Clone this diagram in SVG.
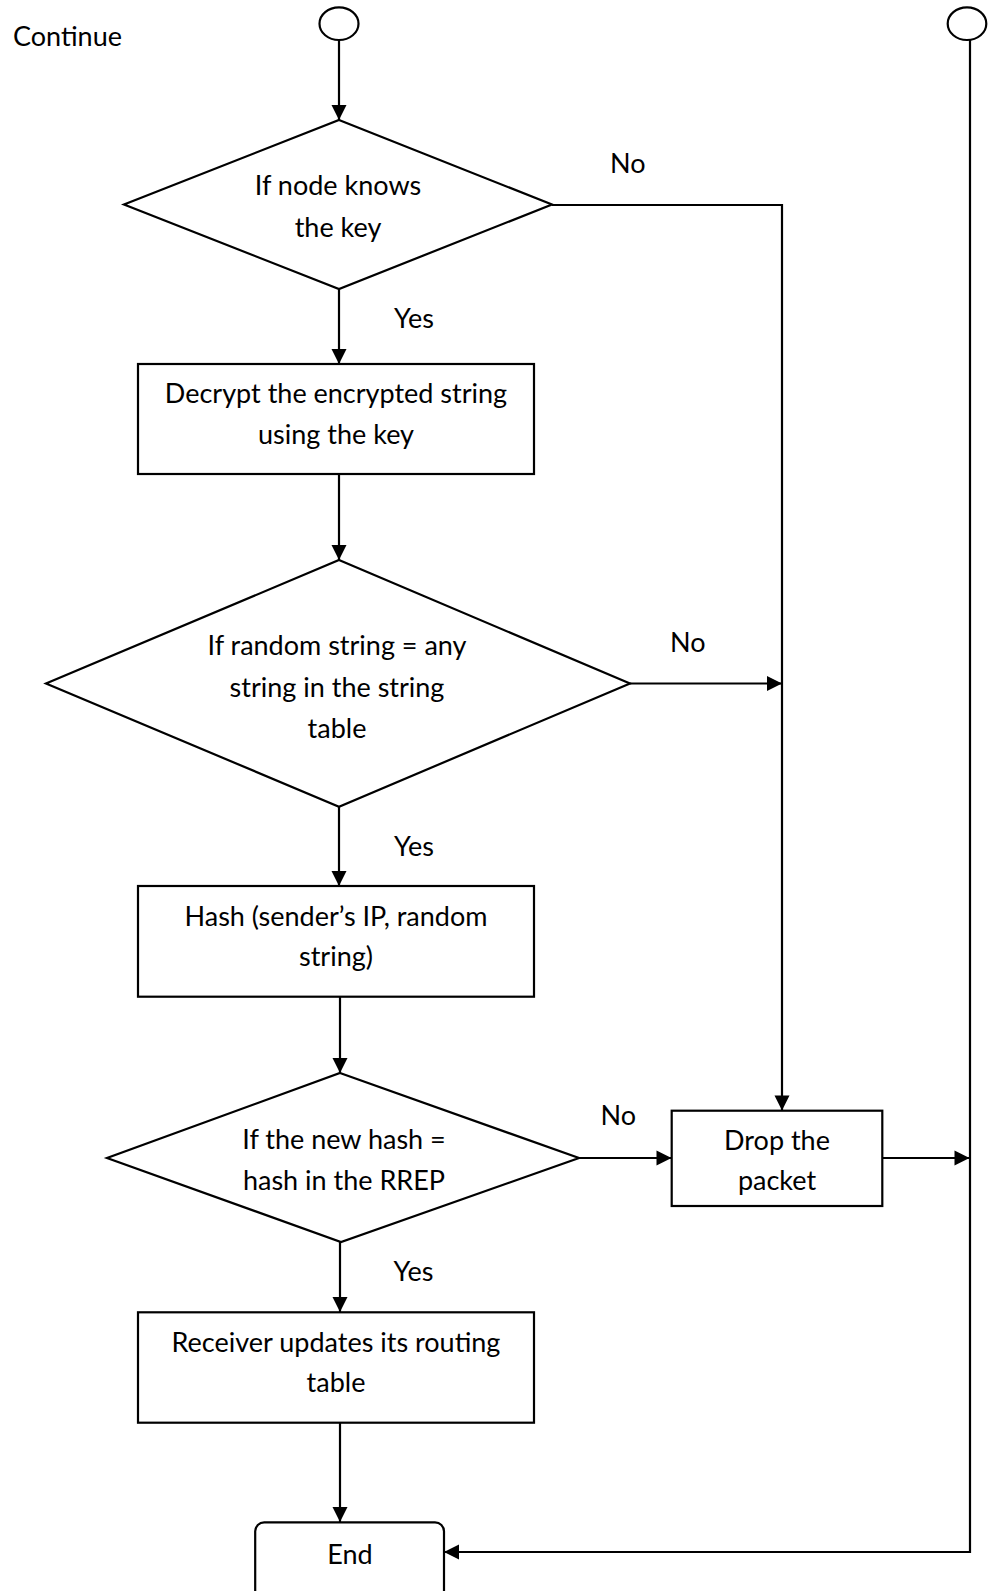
<svg xmlns="http://www.w3.org/2000/svg" width="991" height="1591" viewBox="0 0 991 1591">
  <style>
    .shape { fill: #ffffff; stroke: #000000; stroke-width: 2.2; }
    .edge { fill: none; stroke: #000000; stroke-width: 2.2; }
    .arrow { marker-end: url(#head); }
    text { font-family: Lato, "Liberation Sans", sans-serif; font-size: 27px; fill: #000000; }
    .c { text-anchor: middle; }
  </style>
  <defs>
    <marker id="head" markerUnits="userSpaceOnUse" markerWidth="18" markerHeight="18" viewBox="0 0 18 18" refX="16" refY="9" orient="auto">
      <path d="M1,1.5 L16,9 L1,16.5 Z" fill="#000000"/>
    </marker>
  </defs>

  <rect width="991" height="1591" fill="#ffffff"/>

  <text x="13" y="45.5">Continue</text>

  <!-- connectors -->
  <g id="connectors">
    <line class="edge arrow" x1="339" y1="40" x2="339" y2="120"/>
    <polyline class="edge arrow" points="552,205 782,205 782,1110.5"/>
    <line class="edge arrow" x1="339" y1="289" x2="339" y2="364"/>
    <line class="edge arrow" x1="339" y1="474" x2="339" y2="560"/>
    <line class="edge arrow" x1="630" y1="683.5" x2="782" y2="683.5"/>
    <line class="edge arrow" x1="339" y1="807" x2="339" y2="886"/>
    <line class="edge arrow" x1="340" y1="997" x2="340" y2="1073"/>
    <line class="edge arrow" x1="579" y1="1158" x2="671.5" y2="1158"/>
    <line class="edge arrow" x1="882" y1="1158" x2="969.5" y2="1158"/>
    <line class="edge arrow" x1="340" y1="1242" x2="340" y2="1312"/>
    <line class="edge arrow" x1="340" y1="1423" x2="340" y2="1522"/>
    <polyline class="edge arrow" points="970,40 970,1552 444,1552"/>
    <text x="610" y="173">No</text>
    <text x="394" y="328">Yes</text>
    <text x="670" y="651.5">No</text>
    <text x="394" y="855.5">Yes</text>
    <text x="600.5" y="1125">No</text>
    <text x="393.5" y="1280.5">Yes</text>
  </g>

  <g id="start-connector">
    <ellipse class="shape" cx="339" cy="23.7" rx="19.5" ry="16.3"/>
  </g>

  <g id="continue-connector">
    <ellipse class="shape" cx="967" cy="23.7" rx="19.3" ry="16.3"/>
  </g>

  <g id="knows-key">
    <polygon class="shape" points="339,120 552,204.5 339,289 124,204.5"/>
    <text class="c" x="338" y="195">If node knows</text>
    <text class="c" x="338" y="237">the key</text>
  </g>

  <g id="decrypt">
    <rect class="shape" x="138" y="364" width="396" height="110"/>
    <text class="c" x="336" y="403.3">Decrypt the encrypted string</text>
    <text class="c" x="336" y="444">using the key</text>
  </g>

  <g id="string-match">
    <polygon class="shape" points="339,560 630,683.5 339,806.7 46,683.5"/>
    <text class="c" x="337" y="655">If random string = any</text>
    <text class="c" x="337" y="697">string in the string</text>
    <text class="c" x="337" y="738.3">table</text>
  </g>

  <g id="hash">
    <rect class="shape" x="138" y="886" width="396" height="110.7"/>
    <text class="c" x="336" y="926">Hash (sender’s IP, random</text>
    <text class="c" x="336" y="965.7">string)</text>
  </g>

  <g id="hash-match">
    <polygon class="shape" points="340,1073 579,1158 341,1242 107,1158"/>
    <text class="c" x="344" y="1149">If the new hash =</text>
    <text class="c" x="344" y="1190">hash in the RREP</text>
  </g>

  <g id="drop">
    <rect class="shape" x="671.7" y="1110.7" width="210.6" height="95.3"/>
    <text class="c" x="777" y="1150">Drop the</text>
    <text class="c" x="777" y="1190">packet</text>
  </g>

  <g id="update">
    <rect class="shape" x="138" y="1312.3" width="396" height="110.4"/>
    <text class="c" x="336" y="1351.7">Receiver updates its routing</text>
    <text class="c" x="336" y="1391.7">table</text>
  </g>

  <g id="end">
    <rect class="shape" x="255.2" y="1522.3" width="188.8" height="90" rx="9" ry="9"/>
    <text class="c" x="350" y="1564">End</text>
  </g>
</svg>
